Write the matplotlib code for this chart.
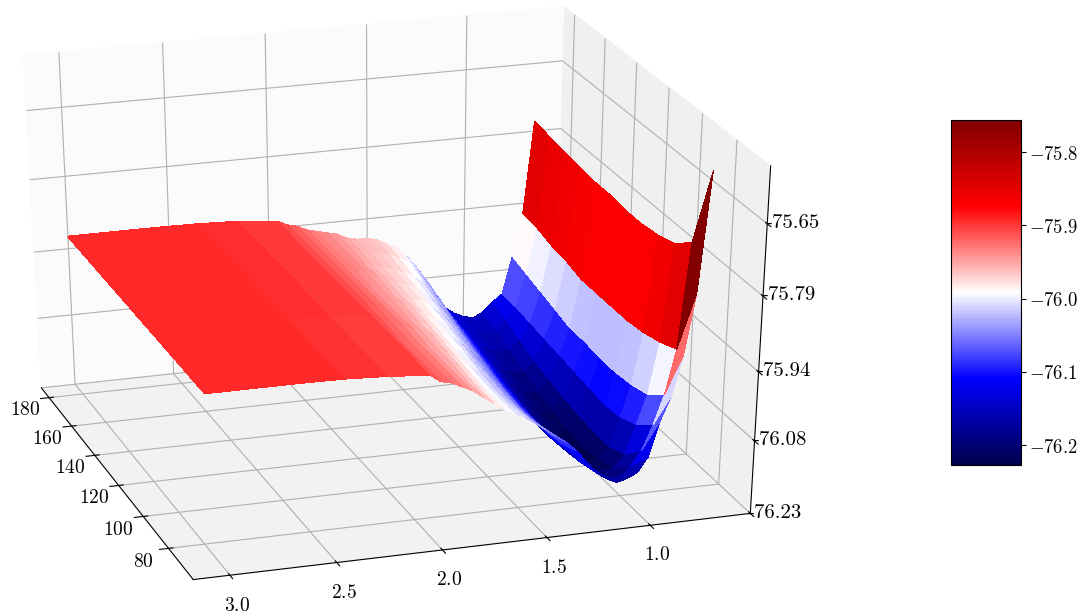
"""Water potential energy surface, bond length against bond angle."""
import matplotlib
matplotlib.use("Agg")
import matplotlib.pyplot as plt
import numpy as np
from matplotlib import cm
from matplotlib.colors import Normalize

plt.rcParams["mathtext.fontset"] = "cm"

# bond length (rows) and angle (columns), energy
bond_length = [0.70, 0.75, 0.80, 0.85, 0.90, 0.95, 1.00, 1.05, 1.10, 1.15, 1.20,
               1.25, 1.30, 1.35, 1.40, 1.45, 1.50, 1.55, 1.60, 1.65, 1.70, 1.75,
               1.80, 1.85, 1.90, 1.95, 2.00, 2.20, 2.40, 2.60, 2.80, 3.04]
bond_angle = [70, 80, 90, 100, 110, 120, 130, 140, 150, 160, 170, 180]
energy = [
    [-75.565, -75.73, -75.76, -75.77, -75.775, -75.775, -75.77, -75.77, -75.765, -75.76, -75.755, -75.75],
    [-75.80, -75.94, -75.955, -75.965, -75.97, -75.97, -75.97, -75.97, -75.96, -75.955, -75.945, -75.94],
    [-75.92, -76.03, -76.06, -76.07, -76.075, -76.075, -76.07, -76.07, -76.06, -76.05, -76.04, -76.03],
    [-76.00, -76.09, -76.12, -76.135, -76.14, -76.135, -76.13, -76.125, -76.12, -76.115, -76.11, -76.11],
    [-76.05, -76.14, -76.18, -76.195, -76.195, -76.19, -76.185, -76.175, -76.165, -76.15, -76.135, -76.125],
    [-76.12, -76.17, -76.205, -76.22, -76.225, -76.22, -76.21, -76.20, -76.185, -76.17, -76.155, -76.145],
    [-76.15, -76.19, -76.21, -76.225, -76.225, -76.22, -76.21, -76.20, -76.185, -76.17, -76.16, -76.155],
    [-76.16, -76.19, -76.205, -76.215, -76.215, -76.21, -76.20, -76.19, -76.18, -76.165, -76.155, -76.15],
    [-76.165, -76.18, -76.19, -76.20, -76.20, -76.195, -76.185, -76.175, -76.165, -76.155, -76.145, -76.14],
    [-76.155, -76.165, -76.175, -76.18, -76.18, -76.175, -76.165, -76.155, -76.145, -76.135, -76.13, -76.125],
    [-76.14, -76.15, -76.155, -76.16, -76.16, -76.15, -76.14, -76.13, -76.12, -76.11, -76.105, -76.10],
    [-76.115, -76.125, -76.135, -76.135, -76.13, -76.125, -76.115, -76.105, -76.095, -76.085, -76.075, -76.07],
    [-76.09, -76.105, -76.11, -76.11, -76.105, -76.10, -76.09, -76.08, -76.07, -76.055, -76.04, -76.03],
    [-76.07, -76.085, -76.09, -76.09, -76.085, -76.075, -76.065, -76.055, -76.04, -76.03, -76.015, -76.005],
    [-76.055, -76.065, -76.07, -76.065, -76.06, -76.05, -76.04, -76.03, -76.02, -76.005, -75.99, -75.985],
    [-76.04, -76.05, -76.05, -76.045, -76.04, -76.03, -76.02, -76.01, -76.00, -75.99, -75.98, -75.975],
    [-76.025, -76.03, -76.03, -76.025, -76.02, -76.01, -76.00, -75.995, -75.985, -75.98, -75.97, -75.965],
    [-76.01, -76.015, -76.015, -76.01, -76.00, -75.995, -75.99, -75.98, -75.975, -75.97, -75.965, -75.96],
    [-76.00, -76.00, -76.00, -75.995, -75.99, -75.985, -75.98, -75.975, -75.97, -75.965, -75.96, -75.96],
    [-75.99, -75.99, -75.985, -75.98, -75.975, -75.97, -75.965, -75.965, -75.96, -75.96, -75.955, -75.955],
    [-75.975, -75.975, -75.97, -75.965, -75.96, -75.96, -75.955, -75.955, -75.95, -75.95, -75.945, -75.945],
    [-75.96, -75.96, -75.955, -75.955, -75.95, -75.95, -75.945, -75.945, -75.94, -75.94, -75.94, -75.94],
    [-75.945, -75.945, -75.945, -75.945, -75.94, -75.94, -75.94, -75.94, -75.935, -75.935, -75.935, -75.935],
    [-75.935, -75.935, -75.935, -75.935, -75.93, -75.93, -75.93, -75.93, -75.93, -75.93, -75.93, -75.93],
    [-75.925, -75.925, -75.925, -75.925, -75.925, -75.92, -75.92, -75.92, -75.92, -75.92, -75.92, -75.92],
    [-75.92, -75.92, -75.92, -75.92, -75.915, -75.915, -75.915, -75.915, -75.915, -75.915, -75.915, -75.915],
    [-75.905, -75.905, -75.905, -75.905, -75.905, -75.905, -75.905, -75.905, -75.905, -75.905, -75.905, -75.905],
    [-75.898, -75.898, -75.898, -75.898, -75.898, -75.897, -75.897, -75.897, -75.897, -75.897, -75.897, -75.897],
    [-75.894, -75.894, -75.894, -75.894, -75.894, -75.894, -75.894, -75.894, -75.894, -75.894, -75.894, -75.894],
    [-75.893, -75.893, -75.893, -75.893, -75.893, -75.893, -75.893, -75.893, -75.893, -75.893, -75.893, -75.893],
    [-75.893, -75.893, -75.893, -75.893, -75.893, -75.893, -75.893, -75.893, -75.893, -75.893, -75.893, -75.893],
    [-75.893, -75.893, -75.893, -75.893, -75.893, -75.893, -75.893, -75.893, -75.893, -75.893, -75.893, -75.893],
]

x_ticks = [1.0, 1.5, 2.0, 2.5, 3.0]
x_labels = ["1.0", "1.5", "2.0", "2.5", "3.0"]
y_ticks = [80, 100, 120, 140, 160, 180]
z_ticks = [-76.23, -76.08, -75.94, -75.79, -75.65]
z_labels = ["-76.23", "-76.08", "-75.94", "-75.79", "-75.65"]
cbar_ticks = [-76.2, -76.1, -76.0, -75.9, -75.8]
color_min, color_max = -76.227, -75.756

fig = plt.figure(figsize=(10.86, 6.14), dpi=100, facecolor="white")
ax = fig.add_axes([-113 / 1086, -3 / 614, 970 / 1086, 650 / 614], projection="3d")
# let the 3d box stretch with the axes, it is wider than tall in the original
ax.apply_aspect = lambda position=None: None
ax.set_box_aspect((1, 1, 1))

X, Y = np.meshgrid(bond_length, bond_angle, indexing="ij")
Z = np.array(energy)
norm = Normalize(color_min, color_max)
ax.plot_surface(X, Y, Z, cmap="seismic", norm=norm, rstride=1, cstride=1,
                linewidth=0, antialiased=False, shade=False)

ax.view_init(elev=28.5, azim=-108)
ax.set_xlim(3.17, 0.51)
ax.set_ylim(61, 187)
ax.set_zlim(-76.23, -75.54)

ax.set_xticks(x_ticks)
ax.set_xticklabels([f"${s}$" for s in x_labels], fontsize=14)
ax.set_yticks(y_ticks)
ax.set_yticklabels([f"${s}$" for s in y_ticks], fontsize=14, va="baseline")
ax.set_zticks(z_ticks)
ax.set_zticklabels(z_labels, fontsize=15, family="cmr10", va="baseline")
ax.tick_params(axis="y", pad=6)
ax.tick_params(axis="z", pad=2)
# z axis on the front right corner, ticks running along y
ax.zaxis._axinfo["juggled"] = (1, 2, 0)
ax.zaxis._get_tickdir = lambda position: 1

ax.xaxis.set_pane_color((0.94, 0.94, 0.94, 1))
ax.yaxis.set_pane_color((0.985, 0.985, 0.985, 1))
ax.zaxis.set_pane_color((0.95, 0.95, 0.95, 1))

cax = fig.add_axes([951 / 1086, 1 - 465 / 614, 70 / 1086, 345 / 614])
cbar = fig.colorbar(cm.ScalarMappable(norm=norm, cmap="seismic"), cax=cax)
cbar.set_ticks(cbar_ticks)
cbar.set_ticklabels([f"${t:.1f}$" for t in cbar_ticks], fontsize=13.5)
cbar.ax.tick_params(pad=2)

fig.savefig("out.png", dpi=100)
